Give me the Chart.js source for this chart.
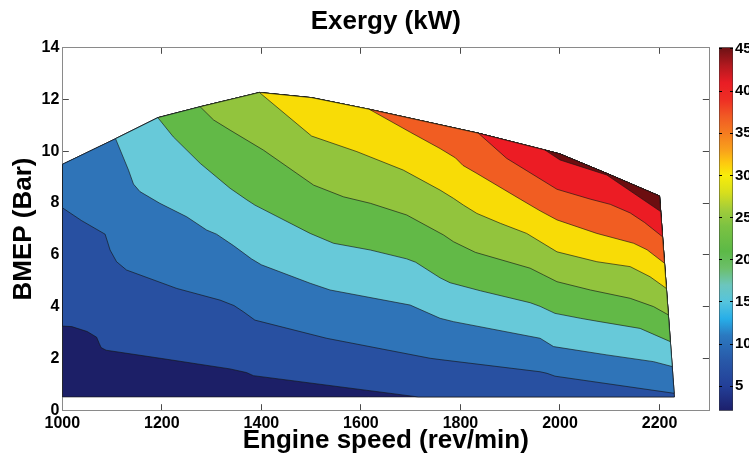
<!DOCTYPE html>
<html>
<head>
<meta charset="utf-8">
<script src="https://cdn.jsdelivr.net/npm/chart.js@4.4.0/dist/chart.umd.min.js"></script>
<style>
  html, body { margin: 0; padding: 0; background: #fff; }
  #wrap { position: relative; width: 749px; height: 458px; overflow: hidden; }
  #main { position: absolute; left: 0; top: 0; }
  #cbar { position: absolute; left: 719px; top: 0; }
</style>
</head>
<body>
<div id="wrap">
  <canvas id="main" width="749" height="458"></canvas>
  <canvas id="cbar" width="30" height="458"></canvas>
</div>
<script>
// ---------- data ----------
const xTicks = [1000, 1200, 1400, 1600, 1800, 2000, 2200];
const yTicks = [0, 2, 4, 6, 8, 10, 12, 14];
const cbarTicks = [5, 10, 15, 20, 25, 30, 35, 40, 45];
const cbarMin = 2.1, cbarMax = 45.2;

// measured domain outline (engine speed, BMEP)
const topEdge = [[1000,9.49],[1107,10.48],[1192,11.29],[1277,11.71],[1377,12.17],[1396,12.26],[1501,12.06],[1617,11.61],[1836,10.69],[1970,10.04],[2000,9.89],[2094,9.14],[2200,8.27]];
const bottomEdge = [[1000,0.53],[2230,0.53]];

// contour lines (boundaries between exergy bands, ~5 kW apart)
const contour5kW  = [[1000,3.26],[1019,3.24],[1050,3.05],[1069,2.83],[1074,2.60],[1078,2.43],[1088,2.33],[1200,2.01],[1337,1.61],[1370,1.47],[1384,1.35],[1715,0.53]];
const contour10kW = [[1000,7.82],[1039,7.32],[1086,6.80],[1091,6.50],[1096,6.19],[1109,5.74],[1129,5.42],[1230,4.71],[1317,4.26],[1345,4.05],[1364,3.81],[1387,3.49],[1531,2.79],[1739,2.02],[1759,1.97],[1960,1.50],[1974,1.44],[1990,1.33],[2229.5,0.67]];
const contour15kW = [[1107,10.48],[1133,9.27],[1143,8.73],[1156,8.44],[1196,7.99],[1250,7.47],[1290,6.96],[1310,6.80],[1344,6.36],[1380,5.85],[1400,5.62],[1498,4.91],[1538,4.65],[1699,4.07],[1759,3.56],[1786,3.43],[1960,2.79],[1987,2.47],[2094,2.15],[2188,1.89],[2225.6,1.70]];
const contour20kW = [[1192,11.29],[1223,10.55],[1277,9.53],[1317,8.89],[1337,8.57],[1371,8.12],[1387,7.92],[1498,6.83],[1545,6.45],[1619,6.19],[1692,5.85],[1710,5.72],[1759,5.12],[1779,4.93],[1840,4.62],[1940,4.16],[1960,4.02],[1990,3.75],[2041,3.56],[2074,3.45],[2161,3.17],[2221.7,2.66]];
const contour25kW = [[1277,11.71],[1304,11.20],[1337,10.81],[1404,10.04],[1505,8.69],[1565,8.24],[1619,7.99],[1692,7.54],[1766,6.77],[1786,6.51],[1830,6.10],[1940,5.49],[1967,5.23],[1994,4.97],[2061,4.65],[2141,4.33],[2188,4.01],[2217.8,3.69]];
const contour30kW = [[1396,12.26],[1501,10.58],[1592,9.98],[1685,9.27],[1759,8.50],[1786,8.18],[1806,7.92],[1833,7.60],[1880,7.22],[1933,6.83],[1994,6.12],[2074,5.74],[2141,5.55],[2181,5.16],[2213.8,4.71]];
const contour35kW = [[1617,11.61],[1700,10.72],[1759,10.10],[1790,9.74],[1805,9.45],[1833,9.14],[1920,8.15],[1960,7.70],[1994,7.35],[2074,6.83],[2148,6.45],[2175,6.20],[2210,5.68]];
const contour40kW = [[1836,10.69],[1893,9.72],[1994,8.53],[2061,8.15],[2101,7.95],[2141,7.62],[2170,7.25],[2206.1,6.70]];
const contour45kW = [[1970,10.04],[2000,9.66],[2094,9.08],[2202.3,7.67]];

const contours = [contour5kW, contour10kW, contour15kW, contour20kW, contour25kW, contour30kW, contour35kW, contour40kW, contour45kW];
const bandColors = ['#1c1f67','#2850a1','#2f74b8','#67c9d9','#62b947','#92c43d','#f8dc06','#f15d22','#ec1c24','#6c0e10'];

// colorbar colour stops (value, colour)
const cbarStops = [[2.1,'#1c1f6b'],[5,'#233f98'],[8,'#2858a8'],[11,'#2b79c0'],[13,'#27aee8'],[15,'#55c4dd'],[17,'#6cc6bd'],[19,'#6cbf6a'],[21,'#5cb947'],[24,'#7cc242'],[26,'#a3cd3a'],[28,'#d8df1c'],[30,'#f8ec0a'],[31.5,'#fdc90f'],[33,'#f9a11b'],[35,'#f57c20'],[37,'#f15a24'],[39,'#ee2e24'],[41,'#e91d25'],[43,'#b3191f'],[45.2,'#6b1114']];

// ---------- build band polygons from contours + outline ----------
function regionPoints(line) {
  const s = line[0], e = line[line.length - 1];
  const pts = line.slice();
  if (e[1] <= bottomEdge[0][1] + 1e-6) pts.push(bottomEdge[1]);
  const rev = topEdge.slice().reverse().filter(p => p[0] > s[0] || (p[0] === s[0] && p[1] > s[1]));
  pts.push(...rev, s);
  return pts.map(([x, y]) => ({x, y}));
}
const regions = [];
regions.push([bottomEdge[0], bottomEdge[1], ...topEdge.slice().reverse(), bottomEdge[0]].map(([x, y]) => ({x, y})));
contours.forEach(c => regions.push(regionPoints(c)));

const datasets = regions.map((pts, k) => ({
  data: pts,
  backgroundColor: bandColors[k],
  borderColor: 'rgba(20,20,20,0.9)',
  borderWidth: 0.7,
  pointRadius: 0,
  pointHoverRadius: 0,
  tension: 0,
  fill: 'shape',
  order: 20 - k
}));

Chart.defaults.font.family = "'Liberation Sans', Arial, Helvetica, sans-serif";
Chart.defaults.color = '#000';

const boxColor = '#8a8a8a';
const tickColor = '#4a4a4a';
const inTick = -6.5;
const plain = v => String(v);

new Chart(document.getElementById('main'), {
  type: 'line',
  data: { datasets },
  options: {
    responsive: false,
    animation: false,
    events: [],
    layout: { padding: { left: 0, right: 39.7, top: 0, bottom: 0 } },
    plugins: {
      legend: { display: false },
      tooltip: { enabled: false },
      title: {
        display: true,
        text: 'Exergy (kW)',
        fullSize: false,
        color: '#000',
        font: { size: 26, weight: 'bold' },
        padding: { top: 6, bottom: 10.1 }
      }
    },
    scales: {
      x: {
        type: 'linear', position: 'bottom', min: 1000, max: 2300,
        afterBuildTicks: s => { s.ticks = xTicks.map(v => ({ value: v })); },
        afterFit: s => { s.height = 47.3; },
        ticks: { font: { size: 16, weight: 'bold' }, color: '#000', padding: 9.5, autoSkip: false, maxRotation: 0, callback: plain },
        grid: { drawOnChartArea: false, drawTicks: true, tickLength: inTick, tickColor: tickColor, tickWidth: 1 },
        border: { display: true, color: boxColor, width: 1 },
        title: { display: true, text: 'Engine speed (rev/min)', color: '#000', font: { size: 26, weight: 'bold' }, padding: { top: 0, bottom: 1.4 } }
      },
      y: {
        type: 'linear', position: 'left', min: 0, max: 14,
        afterBuildTicks: s => { s.ticks = yTicks.map(v => ({ value: v })); },
        afterFit: s => { s.width = 62.3; },
        ticks: { font: { size: 16, weight: 'bold' }, color: '#000', padding: 9.5, callback: plain },
        grid: { drawOnChartArea: false, drawTicks: true, tickLength: inTick, tickColor: tickColor, tickWidth: 1 },
        border: { display: true, color: boxColor, width: 1 },
        title: { display: true, text: 'BMEP (Bar)', color: '#000', font: { size: 26, weight: 'bold' }, padding: { top: 8.4, bottom: 0 } }
      },
      x2: {
        type: 'linear', position: 'top', min: 1000, max: 2300,
        afterBuildTicks: s => { s.ticks = xTicks.map(v => ({ value: v })); },
        afterFit: s => { s.height = 0; },
        ticks: { display: false },
        grid: { drawOnChartArea: false, drawTicks: true, tickLength: inTick, tickColor: tickColor, tickWidth: 1 },
        border: { display: true, color: boxColor, width: 1 }
      },
      y2: {
        type: 'linear', position: 'right', min: 0, max: 14,
        afterBuildTicks: s => { s.ticks = yTicks.map(v => ({ value: v })); },
        afterFit: s => { s.width = 0; },
        ticks: { display: false },
        grid: { drawOnChartArea: false, drawTicks: true, tickLength: inTick, tickColor: tickColor, tickWidth: 1 },
        border: { display: true, color: boxColor, width: 1 }
      }
    }
  }
});

// ---------- colorbar ----------
function cbarGradient(ctx) {
  const chart = ctx.chart;
  if (!chart.chartArea) return bandColors[0];
  const ys = chart.scales.y;
  const y0 = ys.getPixelForValue(cbarMin), y1 = ys.getPixelForValue(cbarMax);
  const g = chart.ctx.createLinearGradient(0, y0, 0, y1);
  cbarStops.forEach(([v, c]) => g.addColorStop(Math.min(1, Math.max(0, (v - cbarMin) / (cbarMax - cbarMin))), c));
  return g;
}

new Chart(document.getElementById('cbar'), {
  type: 'bar',
  data: {
    labels: ['Exergy'],
    datasets: [{
      data: [[cbarMin, cbarMax]],
      backgroundColor: cbarGradient,
      borderColor: '#333',
      borderWidth: 0.8,
      borderSkipped: false,
      barPercentage: 1,
      categoryPercentage: 1
    }]
  },
  options: {
    responsive: false,
    animation: false,
    events: [],
    layout: { padding: { left: 0, right: 0, top: 47.3, bottom: 47.3 } },
    plugins: { legend: { display: false }, tooltip: { enabled: false }, title: { display: false } },
    scales: {
      x: { display: false },
      y: {
        position: 'right', min: cbarMin, max: cbarMax,
        afterBuildTicks: s => { s.ticks = cbarTicks.map(v => ({ value: v })); },
        afterFit: s => { s.width = 16; },
        ticks: { font: { size: 15, weight: 'bold' }, color: '#000', padding: 2, callback: plain },
        grid: { drawTicks: false, color: '#000', lineWidth: 1, z: 1 },
        border: { display: false, dash: [3, 8] }
      }
    }
  }
});
</script>
</body>
</html>
